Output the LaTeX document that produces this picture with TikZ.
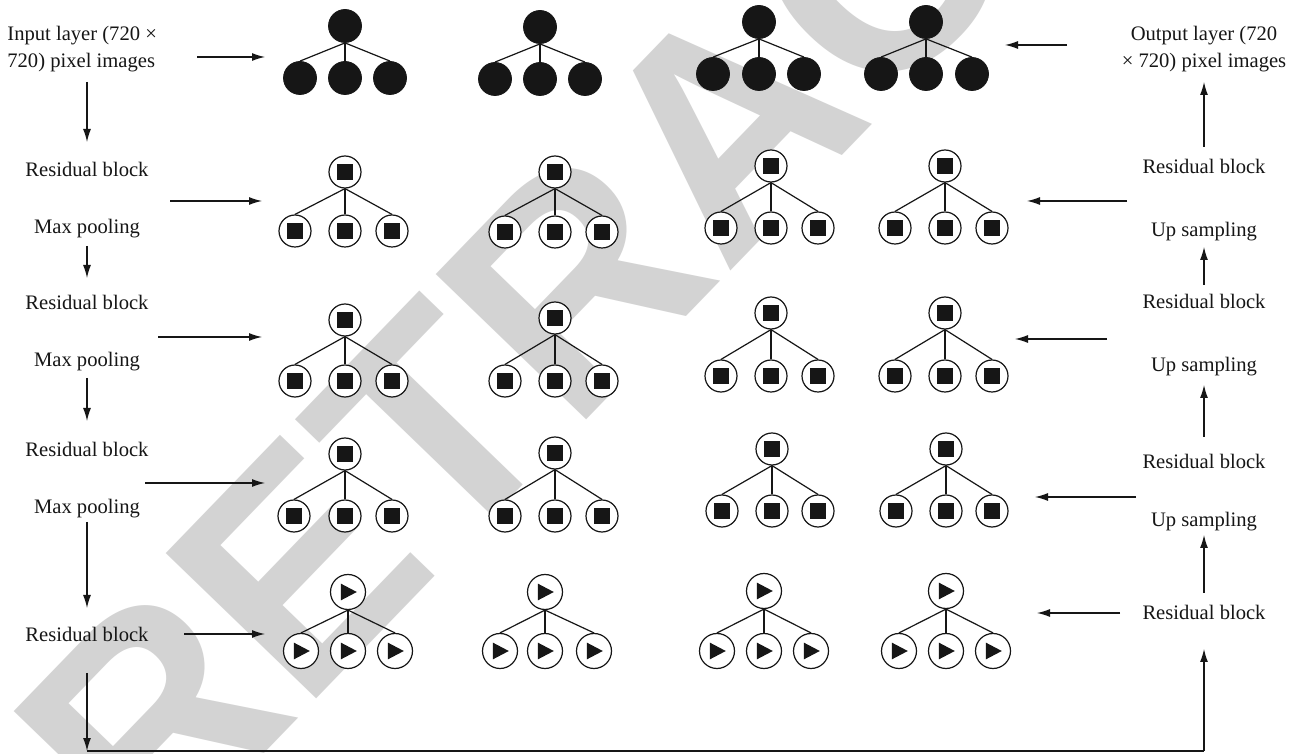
\documentclass[tikz,border=0pt]{standalone}
\usepackage{fontspec}
\setmainfont{Liberation Serif}
\newfontfamily\wmfont{Liberation Sans}
\usetikzlibrary{arrows.meta}
\definecolor{ink}{HTML}{161616}
\definecolor{wmgray}{HTML}{D3D3D3}
\newcommand{\mktree}[7]{%
  \node[#7] (#1t) at (#2,#3) {};
  \node[#7] (#1a) at (#5,#4) {};
  \node[#7] (#1b) at (#2,#4) {};
  \node[#7] (#1c) at (#6,#4) {};
  \draw[link] (#1t.south) -- (#1a.north);
  \draw[link] (#1t.south) -- (#1b.north);
  \draw[link] (#1t.south) -- (#1c.north);
}
\begin{document}
\begin{tikzpicture}[x=0.5pt,y=-0.5pt,
  blk/.style={circle,draw=ink,fill=ink,inner sep=0pt,minimum size=16.5pt},
  sq/.style={circle,draw=ink,line width=0.6pt,fill=white,inner sep=0pt,minimum size=16pt,
    path picture={\fill[ink] ([xshift=-4pt,yshift=-4pt]path picture bounding box.center) rectangle ([xshift=4pt,yshift=4pt]path picture bounding box.center);}},
  tri/.style={circle,draw=ink,line width=0.6pt,fill=white,inner sep=0pt,minimum size=17.5pt,
    path picture={\fill[ink] ([xshift=-3.6pt,yshift=4.2pt]path picture bounding box.center) -- ([xshift=4.4pt]path picture bounding box.center) -- ([xshift=-3.6pt,yshift=-4.2pt]path picture bounding box.center) -- cycle;}},
  link/.style={draw=ink,line width=0.6pt},
  arr/.style={draw=ink,line width=0.6pt,-{Latex[length=6.5pt,width=4pt]}},
  plain/.style={draw=ink,line width=0.6pt},
  lbl/.style={inner sep=0pt,text=ink,font=\fontsize{10.3pt}{13pt}\selectfont,text height=7pt,text depth=2pt},
  lbl2/.style={inner sep=0pt,text=ink,font=\fontsize{10.3pt}{13.5pt}\selectfont},
  wm/.style={anchor=base west,rotate=46,inner sep=0pt,text=wmgray,font=\wmfont\bfseries\fontsize{152pt}{152pt}\selectfont}
]
\useasboundingbox (0,0) rectangle (1298,754);
\fill[white] (0,0) rectangle (1298,754);
\begin{scope}
  \clip (0,0) rectangle (1298,754);
  \node[wm] (wmark) at (150,872) {RETRACTED};
\end{scope}

% trees
\mktree{ra}{345}{26}{78}{300}{390}{blk}
\mktree{rb}{540}{27}{79}{495}{585}{blk}
\mktree{rc}{759}{22}{74}{713}{804}{blk}
\mktree{rd}{926}{22}{74}{881}{972}{blk}

\mktree{sa}{345}{172}{231}{295}{392}{sq}
\mktree{sb}{555}{172}{232}{505}{602}{sq}
\mktree{sc}{771}{166}{228}{721}{818}{sq}
\mktree{sd}{945}{166}{228}{895}{992}{sq}

\mktree{ta}{345}{320}{381}{295}{392}{sq}
\mktree{tb}{555}{318}{381}{505}{602}{sq}
\mktree{tc}{771}{313}{376}{721}{818}{sq}
\mktree{td}{945}{313}{376}{895}{992}{sq}

\mktree{ua}{345}{454}{516}{294}{392}{sq}
\mktree{ub}{555}{453}{516}{505}{602}{sq}
\mktree{uc}{772}{449}{511}{722}{818}{sq}
\mktree{ud}{946}{449}{511}{896}{992}{sq}

\mktree{va}{348}{592}{651}{301}{395}{tri}
\mktree{vb}{545}{592}{651}{500}{594}{tri}
\mktree{vc}{764}{591}{651}{717}{811}{tri}
\mktree{vd}{946}{591}{651}{899}{993}{tri}

% left labels
\node[lbl2,anchor=west,align=left] (inlab) at (7,49) {Input layer (720 ×\\720) pixel images};
\node[lbl] (lrb1) at (87,172) {Residual block};
\node[lbl] (lmp1) at (87,229) {Max pooling};
\node[lbl] (lrb2) at (87,305) {Residual block};
\node[lbl] (lmp2) at (87,362) {Max pooling};
\node[lbl] (lrb3) at (87,452) {Residual block};
\node[lbl] (lmp3) at (87,509) {Max pooling};
\node[lbl] (lrb4) at (87,637) {Residual block};

% right labels
\node[lbl2,align=center] (outlab) at (1204,49) {Output layer (720\\× 720) pixel images};
\node[lbl] (rrb1) at (1204,169) {Residual block};
\node[lbl] (rup1) at (1204,232) {Up sampling};
\node[lbl] (rrb2) at (1204,304) {Residual block};
\node[lbl] (rup2) at (1204,367) {Up sampling};
\node[lbl] (rrb3) at (1204,464) {Residual block};
\node[lbl] (rup3) at (1204,522) {Up sampling};
\node[lbl] (rrb4) at (1204,615) {Residual block};

% arrow end points
\coordinate (a1s) at (197,57);  \coordinate (a1e) at (265,57);
\coordinate (a2s) at (170,201); \coordinate (a2e) at (262,201);
\coordinate (a3s) at (158,337); \coordinate (a3e) at (262,337);
\coordinate (a4s) at (145,483); \coordinate (a4e) at (265,483);
\coordinate (a5s) at (184,634); \coordinate (a5e) at (265,634);

\coordinate (d1s) at (87,82);  \coordinate (d1e) at (87,142);
\coordinate (d2s) at (87,246); \coordinate (d2e) at (87,278);
\coordinate (d3s) at (87,378); \coordinate (d3e) at (87,421);
\coordinate (d4s) at (87,522); \coordinate (d4e) at (87,608);
\coordinate (d5s) at (87,673); \coordinate (d5e) at (87,751);

\coordinate (b1s) at (1067,45);  \coordinate (b1e) at (1005,45);
\coordinate (b2s) at (1127,201); \coordinate (b2e) at (1027,201);
\coordinate (b3s) at (1107,339); \coordinate (b3e) at (1015,339);
\coordinate (b4s) at (1136,497); \coordinate (b4e) at (1035,497);
\coordinate (b5s) at (1120,613); \coordinate (b5e) at (1037,613);

\coordinate (u1s) at (1204,147); \coordinate (u1e) at (1204,82);
\coordinate (u2s) at (1204,285); \coordinate (u2e) at (1204,247);
\coordinate (u3s) at (1204,437); \coordinate (u3e) at (1204,385);
\coordinate (u4s) at (1204,593); \coordinate (u4e) at (1204,535);
\coordinate (u5s) at (1204,751); \coordinate (u5e) at (1204,649);

\foreach \n in {a1,a2,a3,a4,a5,d1,d2,d3,d4,d5,b1,b2,b3,b4,b5,u1,u2,u3,u4,u5}
  \draw[arr] (\n s) -- (\n e);
\draw[plain] (d5e) -- (u5s);
\end{tikzpicture}
\end{document}
